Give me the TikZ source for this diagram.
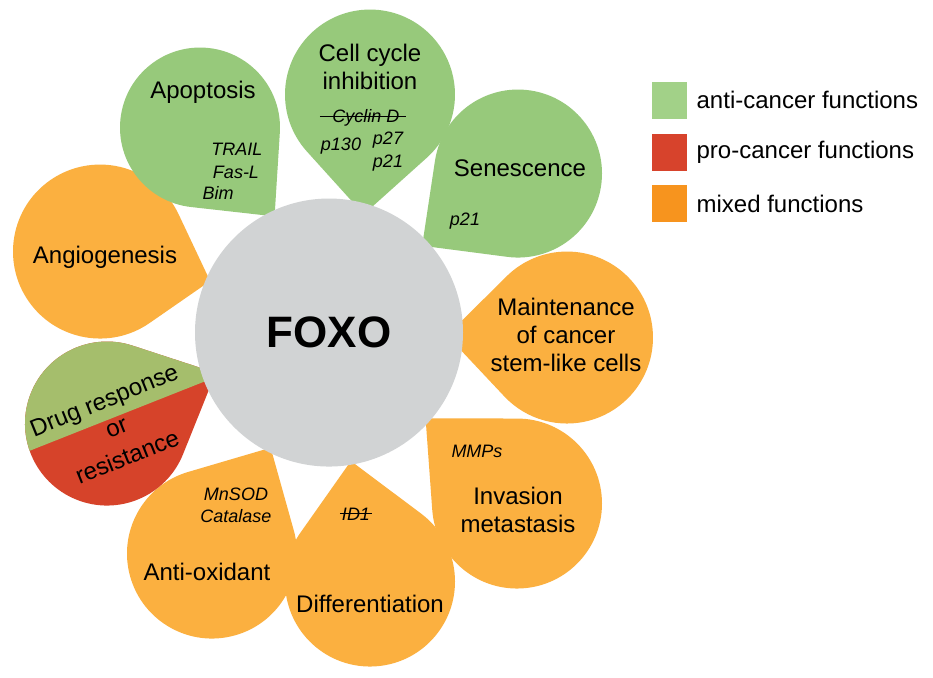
\documentclass[tikz,border=0pt]{standalone}
\usepackage{fontspec}
\setmainfont{Liberation Sans}
\usetikzlibrary{calc, positioning}

\definecolor{antigreen}{RGB}{151,201,123}
\definecolor{mixorange}{RGB}{251,176,64}
\definecolor{drugolive}{RGB}{165,190,108}
\definecolor{prored}{RGB}{214,67,42}
\definecolor{foxogray}{RGB}{209,211,212}
\definecolor{keygreen}{RGB}{162,209,136}
\definecolor{keyred}{RGB}{215,67,44}
\definecolor{keyorange}{RGB}{247,148,30}

% teardrop: colour, centre x, centre y, radius, tip angle, tip distance
\newcommand{\petal}[6]{%
  \pgfmathsetmacro{\pa}{acos(#4/#6)}%
  \fill[#1] ($(#2,#3)+(#5:#6)$) -- ($(#2,#3)+(#5+\pa:#4)$)
    arc[start angle=#5+\pa, end angle=#5+360-\pa, radius=#4] -- cycle;}

\begin{document}
\begin{tikzpicture}[x=0.75pt, y=-0.75pt,
  funclabel/.style={font=\fontsize{18}{21}\selectfont, align=center},
  gene/.style={font=\fontsize{13.5}{16.5}\selectfont\itshape, align=center},
  legendtext/.style={font=\fontsize{18}{21}\selectfont},
  swatch/.style={minimum width=26.25pt, minimum height=27.75pt, inner sep=0pt},
  strike/.style={line width=0.9pt}]
  \fill[white] (0,0) rectangle (933,665);
  % petals
  \foreach \col/\cx/\cy/\rad/\ang/\dist in {
      mixorange/100/250/87/15/114,
      antigreen/200/126/80/50/116,
      antigreen/370/93/85/93/120,
      antigreen/518/172/84/143/120,
      mixorange/567/336/86/181/120,
      mixorange/517/502/85/223/125,
      mixorange/370/580/85/261/122,
      mixorange/212/552/85/299/121}
    {\petal{\col}{\cx}{\cy}{\rad}{\ang}{\dist}}
  % split petal
  \petal{prored}{107}{422}{82}{335}{120}
  \begin{scope}
    \clip (0,300) -- (0,461) -- (260,358) -- (260,300) -- cycle;
    \petal{drugolive}{107}{422}{82}{335}{120}
  \end{scope}
  % centre
  \node[circle, fill=foxogray, minimum size=201pt, inner sep=0pt,
        font=\fontsize{33}{37}\selectfont\bfseries] (foxo) at (329,331) {FOXO};
  % labels
  \node[funclabel] (apop) at (203,91) {Apoptosis};
  \node[gene] (trail) at (237,148) {TRAIL};
  \node[gene] (fasl) at (236,171) {Fas-L};
  \node[gene] (bim) at (218,191) {Bim};
  \node[funclabel] (cell) at (370,65) {Cell cycle\\inhibition};
  \node[gene] (cyclin) at (366,116) {Cyclin D};
  \draw[strike] ([xshift=-6pt,yshift=1pt]cyclin.west) -- ([xshift=1pt,yshift=1pt]cyclin.east);
  \node[gene] (pone) at (341,145) {p130};
  \node[gene] (ptwo) at (388,139) {p27};
  \node[gene] (pthree) at (388,162) {p21};
  \node[funclabel] (sen) at (520,167) {Senescence};
  \node[gene] (psen) at (465,220) {p21};
  \node[funclabel] (angio) at (105,256) {Angiogenesis};
  \node[funclabel] (stem) at (566,333) {Maintenance\\of cancer\\stem-like cells};
  \node[funclabel, rotate=22] (drug) at (105,401) {Drug response};
  \node[funclabel, rotate=22] (drugor) at (117,427) {or};
  \node[funclabel, rotate=22] (resist) at (127,455) {resistance};
  \node[gene] (mmp) at (477,450) {MMPs};
  \node[funclabel] (inv) at (518,508) {Invasion\\metastasis};
  \node[gene] (mnsod) at (236,504) {MnSOD\\Catalase};
  \node[funclabel] (oxid) at (207,570) {Anti-oxidant};
  \node[gene] (idone) at (356,513) {ID1};
  \draw[strike] ([xshift=2pt,yshift=1pt]idone.west) -- ([xshift=-2pt,yshift=1pt]idone.east);
  \node[funclabel] (diff) at (370,602) {Differentiation};
  % legend
  \node[swatch, fill=keygreen] (swgreen) at (669.5,98.5) {};
  \node[swatch, fill=keyred] (swred) at (669.5,150.5) {};
  \node[swatch, fill=keyorange] (sworange) at (669.5,202) {};
  \node[legendtext, right=3.5pt of swgreen] (txtanti) {anti-cancer functions};
  \node[legendtext, right=3.5pt of swred] (txtpro) {pro-cancer functions};
  \node[legendtext, right=3.5pt of sworange] (txtmix) {mixed functions};
\end{tikzpicture}
\end{document}
